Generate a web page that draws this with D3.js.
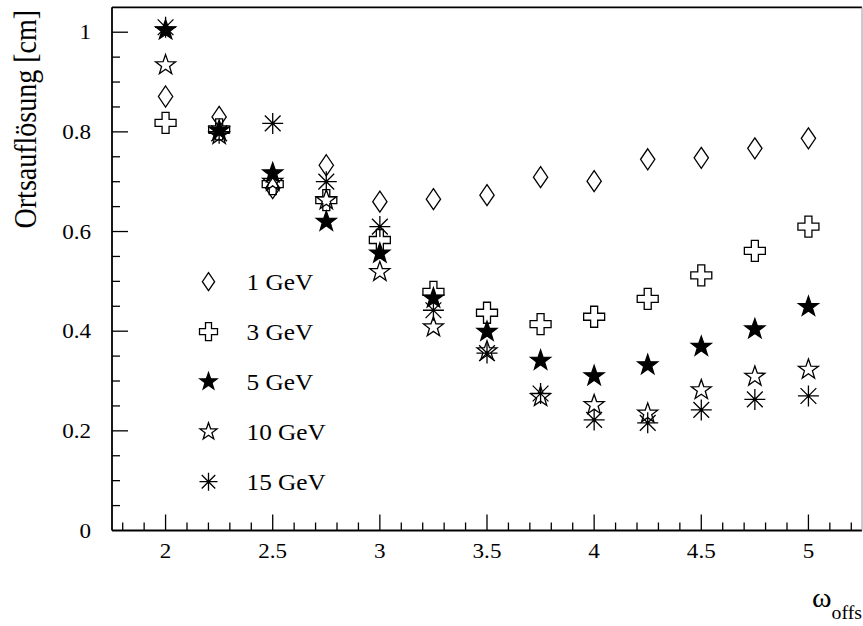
<!DOCTYPE html>
<html>
<head>
<meta charset="utf-8">
<script src="https://d3js.org/d3.v7.min.js"></script>
<style>
  body { margin: 0; background: #fff; }
  text { font-family: "Liberation Serif", "Times New Roman", Times, serif; fill: #000; }
</style>
</head>
<body>
<div id="chart"></div>
<script>
// data
var omega = [2, 2.25, 2.5, 2.75, 3, 3.25, 3.5, 3.75, 4, 4.25, 4.5, 4.75, 5];
var res1  = [0.871, 0.830, 0.687, 0.733, 0.660, 0.665, 0.673, 0.709, 0.701, 0.745, 0.748, 0.767, 0.787];
var res3  = [0.818, 0.805, 0.695, 0.663, 0.583, 0.479, 0.437, 0.414, 0.429, 0.465, 0.512, 0.561, 0.610];
var res5  = [1.004, 0.803, 0.717, 0.620, 0.556, 0.466, 0.399, 0.341, 0.310, 0.332, 0.369, 0.404, 0.449];
var res10 = [0.934, 0.794, 0.700, 0.663, 0.519, 0.408, 0.360, 0.268, 0.252, 0.235, 0.282, 0.309, 0.323];
var res15 = [1.010, 0.797, 0.817, 0.700, 0.610, 0.442, 0.356, 0.275, 0.222, 0.216, 0.242, 0.263, 0.270];
var energies = ["1 GeV", "3 GeV", "5 GeV", "10 GeV", "15 GeV"];
var markers = ["diamond", "cross", "starFilled", "star", "asterisk"];
var xTicks = [2, 2.5, 3, 3.5, 4, 4.5, 5];
var yTicks = [0, 0.2, 0.4, 0.6, 0.8, 1];

(function() {
    var width = 863;
    var height = 626;
    var stretch = 1.1;   // text in the original is a bit wider than tall

    var svg = d3.select("#chart")
        .append("svg")
        .attr("width", width)
        .attr("height", height);

    var x = d3.scaleLinear().domain([1.75, 5.25]).range([112, 862]);
    var y = d3.scaleLinear().domain([0, 1.05]).range([530.5, 7.3]);

    // marker shapes, s = half size
    function markerPath(type, s) {
        var p = d3.path();
        if (type == "diamond") {
            var w = s * 0.68;
            p.moveTo(0, -s); p.lineTo(w, 0); p.lineTo(0, s); p.lineTo(-w, 0); p.closePath();
        } else if (type == "cross") {
            var a = s / 3;
            var pts = [[-a,-s],[a,-s],[a,-a],[s,-a],[s,a],[a,a],[a,s],[-a,s],[-a,a],[-s,a],[-s,-a],[-a,-a]];
            pts.forEach(function(q, i) { i ? p.lineTo(q[0], q[1]) : p.moveTo(q[0], q[1]); });
            p.closePath();
        } else if (type == "star" || type == "starFilled") {
            var r = s * 0.4;
            for (var i = 0; i < 10; i++) {
                var ang = -Math.PI / 2 + i * Math.PI / 5;
                var rr = i % 2 ? r : s;
                i ? p.lineTo(rr * Math.cos(ang), rr * Math.sin(ang)) : p.moveTo(rr * Math.cos(ang), rr * Math.sin(ang));
            }
            p.closePath();
        } else if (type == "asterisk") {
            p.moveTo(-s, 0); p.lineTo(s, 0);
            p.moveTo(0, -s); p.lineTo(0, s);
            var d = s * 0.75;
            p.moveTo(-d, -d); p.lineTo(d, d);
            p.moveTo(-d, d); p.lineTo(d, -d);
        }
        return p.toString();
    }

    function drawMarker(g, type, s) {
        g.append("path")
            .attr("d", markerPath(type, s))
            .attr("fill", type == "starFilled" ? "#000" : "none")
            .attr("stroke", "#000")
            .attr("stroke-width", 1.3)
            .attr("stroke-linejoin", "miter");
        if (type == "asterisk") {
            g.append("circle").attr("r", 1.5).attr("fill", "#000");
        }
    }

    // ticks
    var xMinor = d3.range(18, 53).map(function(v) { return v / 10; });
    var yMinor = d3.range(1, 21).map(function(v) { return v / 20; });

    svg.selectAll(".xminor")
        .data(xMinor)
        .enter().append("line")
        .attr("x1", d => x(d)).attr("x2", d => x(d))
        .attr("y1", y(0)).attr("y2", d => xTicks.indexOf(d) >= 0 ? y(0) - 16 : y(0) - 8)
        .attr("stroke", "#000").attr("stroke-width", 1.3);

    svg.selectAll(".yminor")
        .data(yMinor)
        .enter().append("line")
        .attr("x1", x(1.75)).attr("x2", d => Math.abs(d * 5 - Math.round(d * 5)) < 1e-6 ? x(1.75) + 16 : x(1.75) + 8)
        .attr("y1", d => y(d)).attr("y2", d => y(d))
        .attr("stroke", "#000").attr("stroke-width", 1.3);

    // frame
    svg.append("line").attr("x1", 112).attr("x2", 862).attr("y1", y(0)).attr("y2", y(0))
        .attr("stroke", "#000").attr("stroke-width", 1.8);
    svg.append("line").attr("x1", 112).attr("x2", 112).attr("y1", y(0)).attr("y2", y(1.05))
        .attr("stroke", "#000").attr("stroke-width", 1.8);
    svg.append("line").attr("x1", 112).attr("x2", 862).attr("y1", y(1.05)).attr("y2", y(1.05))
        .attr("stroke", "#000").attr("stroke-width", 1.8);
    svg.append("line").attr("x1", 862).attr("x2", 862).attr("y1", y(0)).attr("y2", y(1.05))
        .attr("stroke", "#999").attr("stroke-width", 1);

    // tick labels
    svg.selectAll(".xlab")
        .data(xTicks)
        .enter().append("text")
        .attr("transform", d => "translate(" + x(d) + ",558) scale(" + stretch + ",1)")
        .attr("text-anchor", "middle")
        .attr("font-size", 21)
        .text(d => d);

    svg.selectAll(".ylab")
        .data(yTicks)
        .enter().append("text")
        .attr("transform", d => "translate(91," + (y(d) + 7) + ") scale(" + stretch + ",1)")
        .attr("text-anchor", "end")
        .attr("font-size", 21)
        .text(d => d);

    // axis titles
    svg.append("text")
        .attr("transform", "translate(36,10) rotate(-90) scale(1," + stretch + ")")
        .attr("text-anchor", "end")
        .attr("font-size", 28)
        .text("Ortsauflösung [cm]");

    var xt = svg.append("text")
        .attr("transform", "translate(812,607) scale(" + stretch + ",1)")
        .attr("font-size", 27);
    xt.append("tspan").text("ω");
    xt.append("tspan").attr("dy", 12).attr("font-size", 18).text("offs");

    // data points
    var series = [res1, res3, res5, res10, res15];
    series.forEach(function(vals, k) {
        var pts = omega.map(function(o, i) { return { x: o, y: vals[i] }; });
        svg.selectAll(null)
            .data(pts)
            .enter().append("g")
            .attr("transform", d => "translate(" + x(d.x) + "," + y(d.y) + ")")
            .each(function() { drawMarker(d3.select(this), markers[k], 10.5); });
    });

    // legend
    var legend = svg.selectAll(".legend")
        .data(energies)
        .enter().append("g")
        .attr("transform", (d, i) => "translate(208.5," + (281.7 + i * 50) + ")");

    legend.each(function(d, i) { drawMarker(d3.select(this), markers[i], 9); });

    legend.append("text")
        .attr("transform", "translate(38,8) scale(" + stretch + ",1)")
        .attr("font-size", 23)
        .text(d => d);
})();
</script>
</body>
</html>
